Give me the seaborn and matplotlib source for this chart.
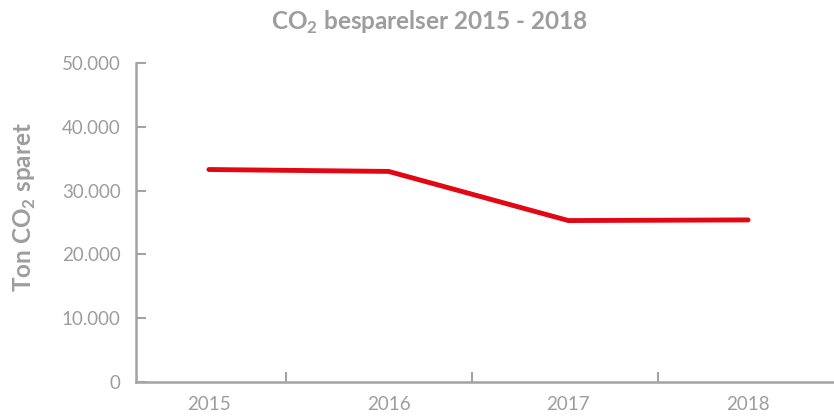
import matplotlib
matplotlib.use("Agg")
import matplotlib.pyplot as plt
import seaborn as sns
import pandas as pd

years = ["2015", "2016", "2017", "2018"]
values = [33300, 33000, 25300, 25400]
yticks = [0, 10000, 20000, 30000, 40000, 50000]
ytick_labels = ["0", "10.000", "20.000", "30.000", "40.000", "50.000"]

sns.set_theme(style="white")
plt.rcParams["font.family"] = ["Lato", "DejaVu Sans"]
plt.rcParams["mathtext.fontset"] = "custom"
plt.rcParams["mathtext.rm"] = "Lato"
plt.rcParams["mathtext.bf"] = "Lato:bold"

GREY = "#9d9d9d"
AX = "#a3a3a3"
RED = "#e30613"

df = pd.DataFrame({"pos": range(len(years)), "year": years, "value": values})

fig = plt.figure(figsize=(8.34, 4.16), dpi=100)
ax = fig.add_axes([0.163, 0.0817, 0.837, 0.767])

sns.lineplot(data=df, x="pos", y="value", ax=ax, color=RED, linewidth=3.5,
             solid_capstyle="round", solid_joinstyle="miter")

ax.set_xlim(-0.406, 3.478)
ax.set_ylim(0, 50000)
ax.set_yticks(yticks)
ax.set_yticklabels(ytick_labels)
ax.set_xticks(range(len(years)))
ax.set_xticklabels(years)
ax.set_xticks([0.43, 1.465, 2.5], minor=True)

ax.tick_params(axis="y", which="major", direction="in", length=7, width=1.5,
               color=AX, labelcolor=GREY, labelsize=13.5, pad=11, left=True)
ax.tick_params(axis="x", which="major", length=0, labelcolor=GREY, labelsize=13.5, pad=10)
ax.tick_params(axis="x", which="minor", direction="in", length=7, width=1.5,
               color=AX, bottom=True)

for s in ["top", "right"]:
    ax.spines[s].set_visible(False)
for s in ["left", "bottom"]:
    ax.spines[s].set_color(AX)
    ax.spines[s].set_linewidth(1.8)

ax.set_xlabel("")
ax.set_ylabel(r"Ton CO$_{\mathbf{2}}$ sparet", color=GREY, fontsize=17.5,
              fontweight="bold")
ax.yaxis.set_label_coords(-0.140, 0.549)
fig.suptitle(r"CO$_{\mathbf{2}}$ besparelser 2015 - 2018", color=GREY, fontsize=17.5,
             fontweight="bold", x=0.515, y=0.98)

fig.savefig("out.png", dpi=100)
